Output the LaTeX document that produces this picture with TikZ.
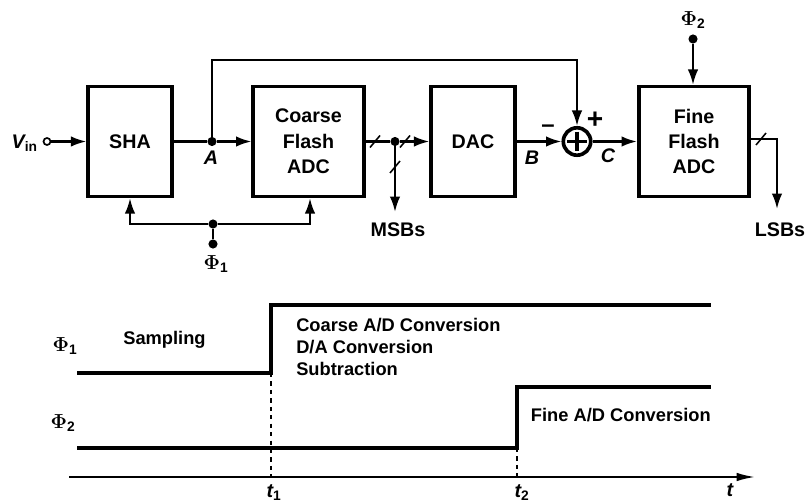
\documentclass[tikz,border=0pt]{standalone}
\usepackage{fontspec}
\setmainfont{Liberation Sans}
\usetikzlibrary{arrows.meta}
\tikzset{
  wire/.style={line width=1.6pt, -{Latex[length=11pt, width=7.5pt]}},
  plainwire/.style={line width=1.6pt},
  block/.style={draw, line width=2.6pt, minimum width=#1, inner sep=0pt, align=center,
    font=\fontsize{14}{18}\selectfont\bfseries},
  junction/.style={circle, fill=black, inner sep=0pt, minimum size=6.5pt},
  busmark/.style={line width=1.1pt},
  wave/.style={line width=2.5pt},
  sigtext/.style={font=\fontsize{14}{16}\selectfont\bfseries},
  nametext/.style={font=\fontsize{14}{16}\selectfont\bfseries\itshape},
  phasetext/.style={font=\fontsize{13}{15.6}\selectfont\bfseries, align=left, inner sep=0pt},
}
\begin{document}
\begin{tikzpicture}[x=0.025cm, y=-0.025cm]
  \useasboundingbox (0, 0) rectangle (807, 504);

  % Blocks
  \node[block=59.5pt, minimum height=78pt] (sha) at (130, 141.5) {SHA};
  \node[block=78.5pt, minimum height=78pt] (coarse) at (308.5, 141.5) {Coarse\\Flash\\ADC};
  \node[block=59.5pt, minimum height=78pt] (dac) at (473, 141.5) {DAC};
  \node[block=78.5pt, minimum height=78pt] (fine) at (694, 141.5) {Fine\\Flash\\ADC};
  \node[draw, circle, line width=2.6pt, minimum size=19.5pt, inner sep=0pt] (sum) at (577, 141.5) {};
  \draw[line width=2.5pt, shorten >=4pt, shorten <=4pt] (sum.west) -- (sum.east);
  \draw[line width=2.5pt, shorten >=4pt, shorten <=4pt] (sum.north) -- (sum.south);

  % Input and forward path
  \node[draw, circle, line width=1.2pt, inner sep=0pt, minimum size=5pt] (vin) at (47, 141.5) {};
  \node[nametext, anchor=east, inner sep=0pt] (vinlabel) at (38, 143) {V\textsubscript{\normalfont\bfseries in}};
  \node[junction] (ja) at (212, 141.5) {};
  \node[junction] (jm) at (395, 141.5) {};
  \coordinate (topl) at (212, 60);
  \coordinate (topr) at (577, 60);
  \draw[wire] (vin) -- (sha);
  \draw[plainwire] (sha) -- (ja);
  \draw[wire] (ja) -- (coarse);
  \draw[plainwire] (coarse) -- (jm);
  \draw[wire] (jm) -- (dac);
  \draw[wire] (dac) -- (sum);
  \draw[wire] (sum) -- (fine);
  \draw[wire] (ja) -- (topl) -- (topr) -- (sum);

  % Digital outputs
  \coordinate (msb) at (395, 212);
  \coordinate (lsbturn) at (777, 139);
  \coordinate (lsb) at (777, 209);
  \draw[wire] (jm) -- (msb);
  \draw[wire] (fine.east |- lsbturn) -- (lsbturn) -- (lsb);
  \draw[busmark] (375, 141.5) ++(-5, 6) -- ++(10, -12);
  \draw[busmark] (405, 141.5) ++(-5, 6) -- ++(10, -12);
  \draw[busmark] (395, 167) ++(-5, 6) -- ++(10, -12);
  \draw[busmark] (761, 139) ++(-5, 6) -- ++(10, -12);
  \node[sigtext] (msblabel) at (398, 230) {MSBs};
  \node[sigtext] (lsblabel) at (780, 230) {LSBs};

  % Clock inputs
  \node[junction] (jc) at (213, 224) {};
  \node[junction] (ph1in) at (213, 244) {};
  \node[junction] (ph2in) at (693, 39) {};
  \coordinate (shaturn) at (130, 224);
  \coordinate (coarseturn) at (310, 224);
  \draw[plainwire] (ph1in) -- (jc);
  \draw[wire] (jc) -- (shaturn) -- (sha.south -| shaturn);
  \draw[wire] (jc) -- (coarseturn) -- (coarse.south -| coarseturn);
  \draw[wire] (ph2in) -- (fine.north -| ph2in);
  \node[sigtext] (ph1label) at (216, 264) {{\boldmath$\Phi$}\textsubscript{1}};
  \node[sigtext] (ph2label) at (693, 20) {{\boldmath$\Phi$}\textsubscript{2}};

  % Signal names
  \node[nametext] (alabel) at (211, 158) {A};
  \node[nametext] (blabel) at (532, 158) {B};
  \node[nametext] (clabel) at (608, 156) {C};
  \node[sigtext] (minus) at (548, 129) {\fontsize{17}{17}\selectfont --};
  \node[sigtext] (plus) at (595, 120) {\fontsize{20}{20}\selectfont +};

  % Phase 1
  \draw[wave] (77, 373) -- (271, 373) -- (271, 305) -- (711, 305);
  \node[sigtext] (ph1) at (65, 346) {{\boldmath$\Phi$}\textsubscript{1}};
  \node[phasetext] (sampling) at (164.5, 340) {Sampling};
  \node[phasetext, anchor=west] (coarsephase) at (296, 347) {Coarse A/D Conversion\\D/A Conversion\\Subtraction};

  % Phase 2
  \draw[wave] (77, 448) -- (517, 448) -- (517, 387) -- (711, 387);
  \node[sigtext] (ph2) at (63, 423) {{\boldmath$\Phi$}\textsubscript{2}};
  \node[phasetext, anchor=east] (finephase) at (711, 415) {Fine A/D Conversion};

  % Time axis
  \coordinate (tstart) at (69, 477);
  \coordinate (tend) at (755, 477);
  \draw[line width=1.4pt, -{Latex[length=13pt, width=6pt]}] (tstart) -- (tend);
  \draw[dashed, line width=1pt] (271, 373) -- (271, 477);
  \draw[dashed, line width=1pt] (517, 448) -- (517, 477);
  \node[nametext] (t1) at (274, 493) {t\textsubscript{\normalfont\bfseries 1}};
  \node[nametext] (t2) at (522, 493) {t\textsubscript{\normalfont\bfseries 2}};
  \node[nametext] (t) at (730, 490) {t};
\end{tikzpicture}
\end{document}
